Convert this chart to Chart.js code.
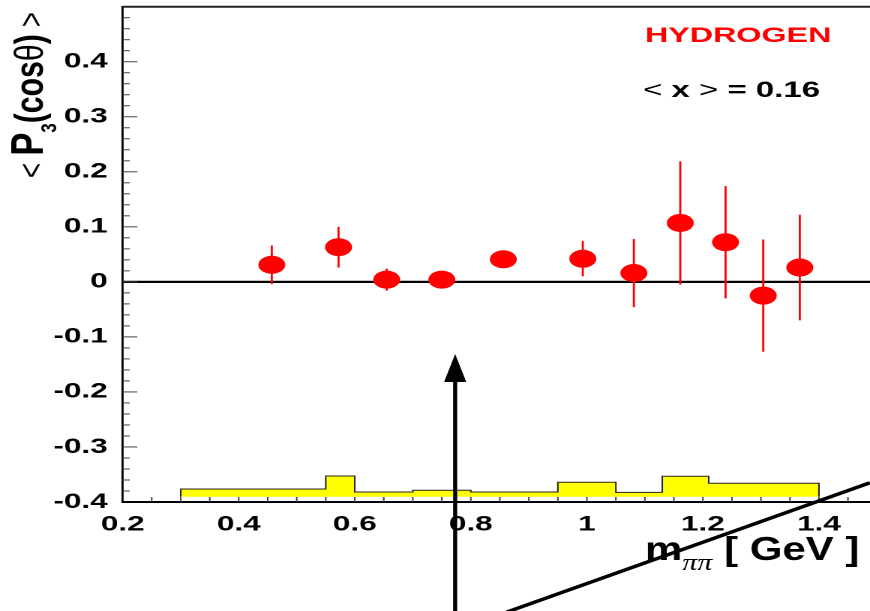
<!DOCTYPE html>
<html>
<head>
<meta charset="utf-8">
<script src="https://cdn.jsdelivr.net/npm/chart.js@4.4.1/dist/chart.umd.min.js"></script>
<style>
  html, body { margin: 0; padding: 0; background: #fff; overflow: hidden; }
  /* the original figure is stretched horizontally, so the whole canvas is too */
  #wrap { position: absolute; left: 0; top: 0; width: 580px; height: 611px;
          transform: scaleX(1.5); transform-origin: 0 0; }
</style>
</head>
<body>
<div id="wrap"><canvas id="chart" width="580" height="611"></canvas></div>
<script>
// measured points: m_pipi [GeV] and <P3(cos theta)>
const massBins = [0.457, 0.572, 0.655, 0.75, 0.856, 0.993, 1.081, 1.161, 1.239, 1.304, 1.367];
const p3Mean = [0.031, 0.063, 0.004, 0.004, 0.041, 0.042, 0.016, 0.107, 0.072, -0.025, 0.026];
const p3Error = [0.035, 0.037, 0.02, 0.008, 0.01, 0.032, 0.062, 0.112, 0.102, 0.102, 0.096];

// systematic band (yellow histogram)
const sysEdges = [0.3, 0.55, 0.6, 0.7, 0.8, 0.95, 1.05, 1.13, 1.21, 1.4];
const sysTops = [-0.3764, -0.3527, -0.3818, -0.3787, -0.3818, -0.3642, -0.3824, -0.3533, -0.366];
const sysBase = -0.3904;

// axis ranges
const xRange = [0.2, 1.488];
const yRange = [-0.4, 0.5];

// annotation marks (data units)
const arrowMass = 0.773;
const arrowTip = -0.131;
const slashLine = { x: [0.862, 1.488], y: [-0.6, -0.365] };

const FONT = '"Liberation Sans", Arial, Helvetica, sans-serif';

// histogram outline, closed down to the base at both ends
const sysPoints = [{ x: sysEdges[0], y: sysBase }];
sysTops.forEach((v, i) => sysPoints.push({ x: sysEdges[i], y: v }));
sysPoints.push({ x: sysEdges[sysEdges.length - 1], y: sysTops[sysTops.length - 1] });
sysPoints.push({ x: sysEdges[sysEdges.length - 1], y: sysBase });

const points = massBins.map((m, i) => ({ x: m, y: p3Mean[i] }));

function drawParts(ctx, parts) {
  let x = 0;
  parts.forEach((p) => {
    ctx.font = p.f;
    ctx.fillStyle = p.c || '#000';
    ctx.fillText(p.t, x, p.dy || 0);
    x += ctx.measureText(p.t).width;
  });
}

const extras = {
  id: 'extras',
  beforeDatasetsDraw(chart) {
    const { ctx, chartArea: a, scales: { x, y } } = chart;
    ctx.save();
    // zero line
    const y0 = y.getPixelForValue(0);
    ctx.strokeStyle = '#000';
    ctx.lineWidth = 2.2;
    ctx.beginPath();
    ctx.moveTo(a.left, y0);
    ctx.lineTo(a.right, y0);
    ctx.stroke();
    // error bars
    ctx.strokeStyle = '#ff0000';
    ctx.lineWidth = 1.4;
    massBins.forEach((m, i) => {
      const px = x.getPixelForValue(m);
      ctx.beginPath();
      ctx.moveTo(px, y.getPixelForValue(p3Mean[i] - p3Error[i]));
      ctx.lineTo(px, y.getPixelForValue(p3Mean[i] + p3Error[i]));
      ctx.stroke();
    });
    ctx.restore();
  },
  afterDatasetsDraw(chart) {
    const { ctx, chartArea: a, scales: { x, y } } = chart;
    ctx.save();
    // top frame
    ctx.strokeStyle = '#222';
    ctx.lineWidth = 2;
    ctx.beginPath();
    ctx.moveTo(a.left, a.top);
    ctx.lineTo(a.right, a.top);
    ctx.stroke();
    // inward ticks on y
    ctx.strokeStyle = '#444';
    ctx.lineWidth = 1;
    for (let k = -19; k <= 24; k++) {
      const py = y.getPixelForValue(k * 0.02);
      const len = k % 5 === 0 ? 9.8 : 4.7;
      ctx.beginPath();
      ctx.moveTo(a.left, py);
      ctx.lineTo(a.left + len, py);
      ctx.stroke();
    }
    // inward ticks on x
    for (let k = 5; k <= 29; k++) {
      const px = x.getPixelForValue(k * 0.05);
      ctx.beginPath();
      ctx.moveTo(px, a.bottom);
      ctx.lineTo(px, a.bottom - 5);
      ctx.stroke();
    }
    ctx.restore();
  },
  afterDraw(chart) {
    const { ctx, scales: { x, y } } = chart;
    ctx.save();
    ctx.strokeStyle = '#000';
    ctx.fillStyle = '#000';
    // arrow
    const ax = x.getPixelForValue(arrowMass);
    const tip = y.getPixelForValue(arrowTip);
    ctx.beginPath();
    ctx.moveTo(ax, tip);
    ctx.lineTo(ax - 7.4, tip + 28);
    ctx.lineTo(ax + 7.4, tip + 28);
    ctx.closePath();
    ctx.fill();
    ctx.lineWidth = 2.7;
    ctx.beginPath();
    ctx.moveTo(ax, tip + 27);
    ctx.lineTo(ax, chart.height + 5);
    ctx.stroke();
    // slanted line
    ctx.lineWidth = 3.3;
    ctx.beginPath();
    ctx.moveTo(x.getPixelForValue(slashLine.x[0]), y.getPixelForValue(slashLine.y[0]));
    ctx.lineTo(x.getPixelForValue(slashLine.x[1]), y.getPixelForValue(slashLine.y[1]));
    ctx.stroke();

    ctx.textBaseline = 'alphabetic';
    ctx.textAlign = 'left';
    // labels in the corner
    ctx.save();
    ctx.translate(430, 42);
    drawParts(ctx, [{ t: 'HYDROGEN', f: 'bold 21.5px ' + FONT, c: '#ff0000' }]);
    ctx.restore();
    ctx.save();
    ctx.translate(428.7, 97);
    drawParts(ctx, [
      { t: '<', f: '22px ' + FONT },
      { t: ' x ', f: 'bold 22px ' + FONT },
      { t: '>', f: '22px ' + FONT },
      { t: ' = 0.16', f: 'bold 22px ' + FONT }
    ]);
    ctx.restore();

    // y title, rotated
    ctx.save();
    ctx.translate(28.7, 178);
    ctx.rotate(-Math.PI / 2);
    ctx.scale(1.12, 1);
    drawParts(ctx, [
      { t: '< ', f: '23px ' + FONT },
      { t: 'P', f: 'bold 31px ' + FONT },
      { t: '3', f: 'bold 15px ' + FONT, dy: 9 },
      { t: '(cos', f: 'bold 27px ' + FONT },
      { t: 'θ', f: '27px ' + FONT },
      { t: ')', f: 'bold 27px ' + FONT },
      { t: ' >', f: '23px ' + FONT }
    ]);
    ctx.restore();

    // x title
    ctx.save();
    ctx.translate(430, 560);
    ctx.scale(1, 1.2);
    drawParts(ctx, [
      { t: 'm', f: 'bold 28px ' + FONT },
      { t: 'ππ', f: 'italic 20px "Liberation Serif", "Times New Roman", serif', dy: 8.3 },
      { t: ' [ GeV ]', f: 'bold 28px ' + FONT }
    ]);
    ctx.restore();
    ctx.restore();
  }
};

const fmt = (v) => String(Math.round(v * 10) / 10);

new Chart(document.getElementById('chart'), {
  type: 'scatter',
  data: {
    datasets: [
      {
        label: 'HYDROGEN',
        data: points,
        pointStyle: 'circle',
        pointRadius: 9,
        pointHoverRadius: 9,
        pointBackgroundColor: '#ff0000',
        pointBorderWidth: 0,
        showLine: false
      },
      {
        type: 'line',
        label: 'syst',
        data: sysPoints,
        stepped: true,
        borderColor: '#222',
        borderWidth: 1,
        backgroundColor: '#ffff00',
        fill: { value: sysBase },
        pointRadius: 0,
        tension: 0
      }
    ]
  },
  options: {
    responsive: false,
    devicePixelRatio: 2,
    animation: false,
    events: [],
    layout: { autoPadding: false, padding: { top: 6.7, left: 0, right: 0, bottom: 0 } },
    plugins: { legend: { display: false }, tooltip: { enabled: false } },
    scales: {
      x: {
        type: 'linear',
        min: xRange[0],
        max: xRange[1],
        grid: { display: false },
        border: { display: true, color: '#000', width: 2 },
        ticks: {
          stepSize: 0.2,
          includeBounds: false,
          padding: 2,
          color: '#000',
          font: { family: FONT, size: 21, weight: 'bold' },
          maxRotation: 0,
          callback: (v) => fmt(v)
        },
        afterFit(scale) {
          scale.height = 109;
          scale.paddingLeft = 0;
          scale.paddingRight = 0;
        }
      },
      y: {
        type: 'linear',
        min: yRange[0],
        max: yRange[1],
        grid: { display: false },
        border: { display: true, color: '#000', width: 1.4 },
        ticks: {
          stepSize: 0.1,
          padding: 2,
          color: '#000',
          font: { family: FONT, size: 21, weight: 'bold' },
          callback: (v) => (v > 0.45 ? '' : fmt(v))
        },
        afterFit(scale) {
          scale.width = 81.8;
          scale.paddingTop = 0;
          scale.paddingBottom = 0;
        }
      }
    }
  },
  plugins: [extras]
});
</script>
</body>
</html>
